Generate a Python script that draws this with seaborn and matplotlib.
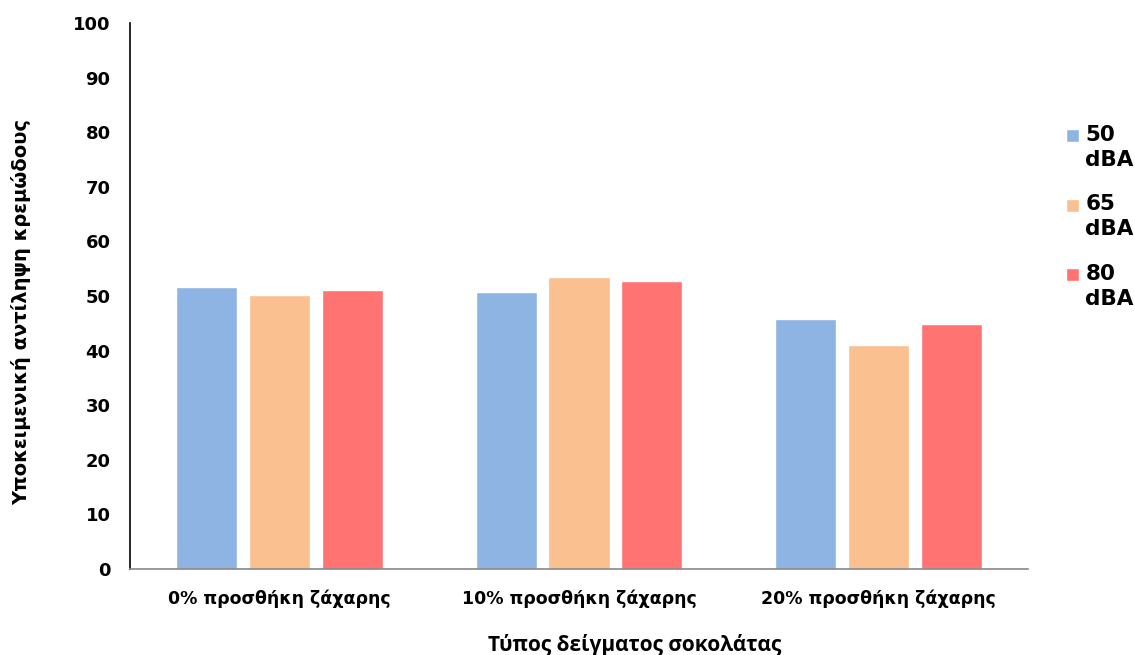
import matplotlib
matplotlib.use("Agg")
import matplotlib.pyplot as plt
from matplotlib.patches import Rectangle
from matplotlib.legend_handler import HandlerPatch
import seaborn as sns
import pandas as pd

categories = ["0% προσθήκη ζάχαρης", "10% προσθήκη ζάχαρης", "20% προσθήκη ζάχαρης"]
levels = ["50\ndBA", "65\ndBA", "80\ndBA"]
values_50 = [51.6, 50.7, 45.7]
values_65 = [50.2, 53.4, 41.0]
values_80 = [51.1, 52.7, 44.9]
colors = ["#8EB4E3", "#FAC090", "#FF7373"]
yticks = [0, 10, 20, 30, 40, 50, 60, 70, 80, 90, 100]

rows = []
for lvl, vals in zip(levels, [values_50, values_65, values_80]):
    for cat, v in zip(categories, vals):
        rows.append({"cat": cat, "level": lvl, "value": v})
df = pd.DataFrame(rows)

sns.set_theme(style="white")
plt.rcParams["font.family"] = ["DejaVu Sans"]
plt.rcParams["font.weight"] = "bold"
plt.rcParams["text.color"] = "black"
plt.rcParams["axes.labelcolor"] = "black"
plt.rcParams["xtick.color"] = "black"
plt.rcParams["ytick.color"] = "black"

fig = plt.figure(figsize=(11.35, 6.55), dpi=100)
ax = fig.add_axes([130 / 1135, 1 - 569 / 655, (1028 - 130) / 1135, (569 - 23) / 655])

sns.barplot(data=df, x="cat", y="value", hue="level", palette=colors,
            width=0.73, gap=0.16, ax=ax, saturation=1, errorbar=None)

ax.set_ylim(0, 100)
ax.set_xlim(-0.5, 2.5)
ax.set_yticks(yticks)
ax.set_yticklabels([str(t) for t in yticks], fontsize=13, fontweight="bold")
ax.tick_params(axis="y", length=0, pad=14, labelcolor="black")
ax.set_xticks([-0.5, 0.5, 1.5, 2.5], minor=False)
ax.set_xticklabels([])
ax.set_xticks([0, 1, 2], minor=True)
ax.set_xticklabels(categories, minor=True, fontsize=12.5, fontweight="bold")
ax.tick_params(axis="x", which="major", length=6, width=1, color="#888888", direction="out")
ax.tick_params(axis="x", which="minor", length=0, pad=15, labelcolor="black")

for s in ["top", "right"]:
    ax.spines[s].set_visible(False)
ax.spines["left"].set_color("black")
ax.spines["left"].set_linewidth(1.2)
ax.spines["bottom"].set_color("#888888")
ax.spines["bottom"].set_linewidth(1.2)

ax.set_xlabel("Τύπος δείγματος σοκολάτας", fontsize=15, fontweight="bold",
              family=["Open Sans", "DejaVu Sans"], color="black")
ax.xaxis.set_label_coords((635 - 130) / 898, -(645 - 569) / 546)
ax.xaxis.label.set_va("center")
ax.set_ylabel("Υποκειμενική αντίληψη κρεμώδους", fontsize=14, fontweight="bold", color="black")
ax.yaxis.set_label_coords(-(130 - 21) / 898, (569 - 312) / 546)
ax.yaxis.label.set_va("center")


def top_square(legend, orig_handle, xdescent, ydescent, width, height, fontsize):
    side = 9.5
    return Rectangle((-xdescent, -ydescent + height - side - 0.8), side, side)


handles, labels = ax.get_legend_handles_labels()
leg = ax.legend(handles, labels, loc="center left", bbox_to_anchor=((1066 - 130) / 898, 0.645),
                frameon=False, fontsize=15.5, handlelength=0.62, handleheight=2.6,
                handletextpad=0.28, labelspacing=1.15, borderpad=0, borderaxespad=0,
                handler_map={Rectangle: HandlerPatch(patch_func=top_square)})
for t in leg.get_texts():
    t.set_fontweight("bold")
    t.set_color("black")
    t.set_linespacing(1.3)

fig.savefig("out.png", dpi=100, facecolor="white")
